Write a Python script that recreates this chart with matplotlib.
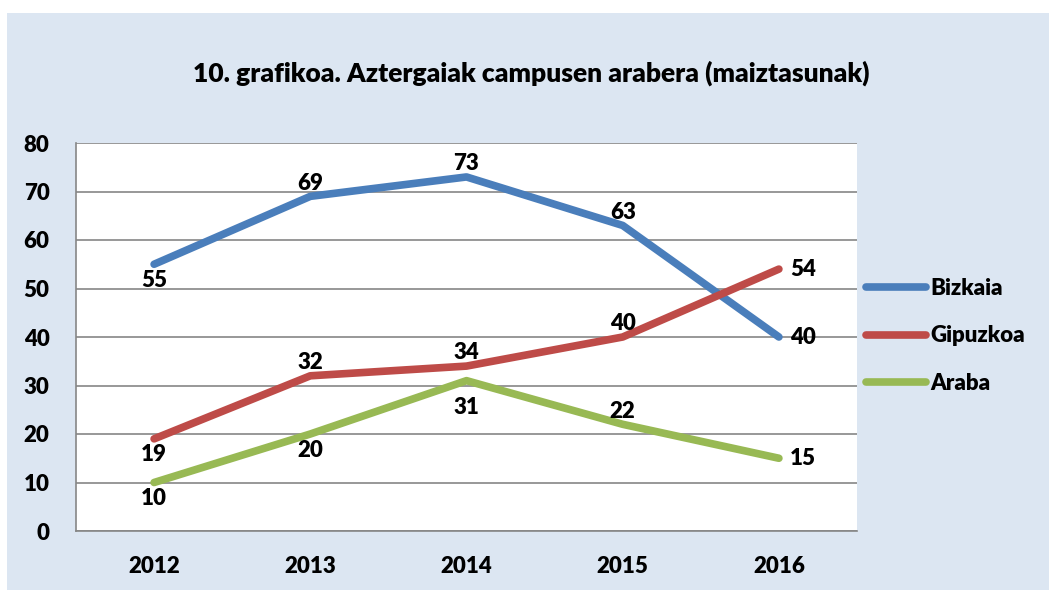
import matplotlib.pyplot as plt
from matplotlib.patches import Rectangle

years = ['2012', '2013', '2014', '2015', '2016']
bizkaia = [55, 69, 73, 63, 40]
gipuzkoa = [19, 32, 34, 40, 54]
araba = [10, 20, 31, 22, 15]

# label placement per point: 'a' above, 'b' below, 'bb' further below, 'r' right
bizkaia_pos = ['b', 'a', 'a', 'a', 'r']
gipuzkoa_pos = ['b', 'a', 'a', 'a', 'r']
araba_pos = ['b', 'b', 'bb', 'a', 'r']

WEIGHT = 'heavy'
plt.rcParams['font.family'] = ['Lato', 'DejaVu Sans']
plt.rcParams['font.weight'] = WEIGHT
FS = 16

W, H = 1049, 590
fig = plt.figure(figsize=(W / 100, H / 100), dpi=100)
fig.patch.set_facecolor('white')
fig.patches.append(Rectangle((7 / W, 0), 1 - 7 / W, 1 - 13 / H,
                             transform=fig.transFigure, facecolor='#dce6f2',
                             edgecolor='none', zorder=-5))

ax = fig.add_axes([76 / W, 1 - 531 / H, (857 - 76) / W, (531 - 143) / H])
ax.set_facecolor('white')

series = [
    ('Bizkaia', bizkaia, bizkaia_pos, '#4a7ebb'),
    ('Gipuzkoa', gipuzkoa, gipuzkoa_pos, '#be4b48'),
    ('Araba', araba, araba_pos, '#98b954'),
]
offsets = {'a': ((0, 2), 'center', 'bottom'),
           'b': ((0, -4), 'center', 'top'),
           'bb': ((0, -12), 'center', 'top'),
           'r': ((8, 0), 'left', 'center')}
x = list(range(len(years)))
for name, vals, pos, col in series:
    ax.plot(x, vals, color=col, lw=5.5, solid_capstyle='round', label=name, zorder=3)
    for xi, v, p in zip(x, vals, pos):
        off, ha, va = offsets[p]
        ax.annotate(str(v), (xi, v), xytext=off, textcoords='offset points',
                    ha=ha, va=va, fontsize=FS, fontweight=WEIGHT, zorder=4)

ax.set_xlim(-0.5, 4.5)
ax.set_ylim(0, 80)
ax.set_yticks(range(0, 81, 10))
ax.set_xticks(x)
ax.set_xticklabels(years)
ax.tick_params(length=0, labelsize=FS)
ax.tick_params(axis='x', pad=18)
ax.tick_params(axis='y', pad=19)
for lbl in ax.get_xticklabels() + ax.get_yticklabels():
    lbl.set_fontweight(WEIGHT)
ax.grid(axis='y', color='#868686', lw=1.2)
ax.set_axisbelow(True)
for s in ['top', 'right']:
    ax.spines[s].set_visible(False)
for s in ['left', 'bottom']:
    ax.spines[s].set_color('#868686')
    ax.spines[s].set_linewidth(1.2)

leg = fig.legend(*ax.get_legend_handles_labels(), loc='center left',
                 bbox_to_anchor=(866 / W, 1 - 336 / H), bbox_transform=fig.transFigure,
                 frameon=False, fontsize=FS, handlelength=2.7, handletextpad=0.2,
                 labelspacing=1.2, borderaxespad=0, borderpad=0)
for t in leg.get_texts():
    t.set_fontweight(WEIGHT)

fig.text(531 / W, 1 - 73 / H, '10. grafikoa. Aztergaiak campusen arabera (maiztasunak)',
         ha='center', va='center', fontsize=19, fontweight=WEIGHT)

fig.savefig('out.png', dpi=100)
